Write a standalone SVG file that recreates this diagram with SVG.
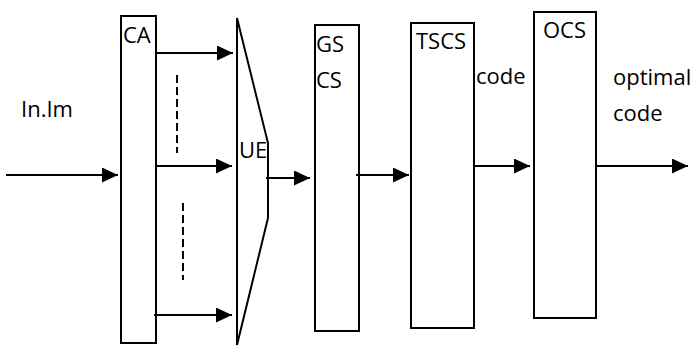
<svg xmlns="http://www.w3.org/2000/svg" width="696" height="347" viewBox="0 0 696 347">
<style>
.box{fill:#fff;stroke:#000;stroke-width:2}
.ln{stroke:#000;stroke-width:2;fill:none}
.dash{stroke:#000;stroke-width:2;stroke-dasharray:8 4}
text{font-family:"Open Sans","DejaVu Sans",sans-serif;font-size:22px;fill:#000}
</style>
<defs>
<marker id="ah" markerUnits="userSpaceOnUse" markerWidth="16" markerHeight="15" refX="16" refY="7.5" orient="auto">
<path d="M0,0 L16,7.5 L0,15 Z" fill="#000"/>
</marker>
</defs>
<rect width="696" height="347" fill="#fff"/>
<text x="21" y="117">In.Im</text>
<g id="CA">
<rect class="box" x="121" y="16" width="35" height="327"/>
<text x="123" y="43">CA</text>
</g>
<g id="UE">
<polygon class="box" points="237,18 268,143 268,218 237,345"/>
<text x="239" y="158">UE</text>
</g>
<g id="GSCS">
<rect class="box" x="315" y="25" width="44" height="306"/>
<text x="316" y="52">GS</text>
<text x="316" y="88">CS</text>
</g>
<g id="TSCS">
<rect class="box" x="411" y="23" width="63" height="305"/>
<text x="416" y="49">TSCS</text>
</g>
<g id="OCS">
<rect class="box" x="534" y="12" width="62" height="306"/>
<text x="543" y="38">OCS</text>
</g>
<text x="476" y="84">code</text>
<text x="613" y="85">optimal</text>
<text x="613" y="121">code</text>
<g id="connectors">
<line class="ln" x1="6" y1="175" x2="118" y2="175" marker-end="url(#ah)"/>
<line class="ln" x1="156" y1="53" x2="233" y2="53" marker-end="url(#ah)"/>
<line class="ln" x1="156" y1="166" x2="232" y2="166" marker-end="url(#ah)"/>
<line class="ln" x1="154" y1="315" x2="232" y2="315" marker-end="url(#ah)"/>
<line class="ln" x1="266" y1="178" x2="310" y2="178" marker-end="url(#ah)"/>
<line class="ln" x1="356" y1="175" x2="409" y2="175" marker-end="url(#ah)"/>
<line class="ln" x1="474" y1="166" x2="530" y2="166" marker-end="url(#ah)"/>
<line class="ln" x1="597" y1="166" x2="688" y2="166" marker-end="url(#ah)"/>
<line class="dash" x1="177" y1="75" x2="177" y2="153"/>
<line class="dash" x1="183" y1="203" x2="183" y2="280"/>
</g>
</svg>
